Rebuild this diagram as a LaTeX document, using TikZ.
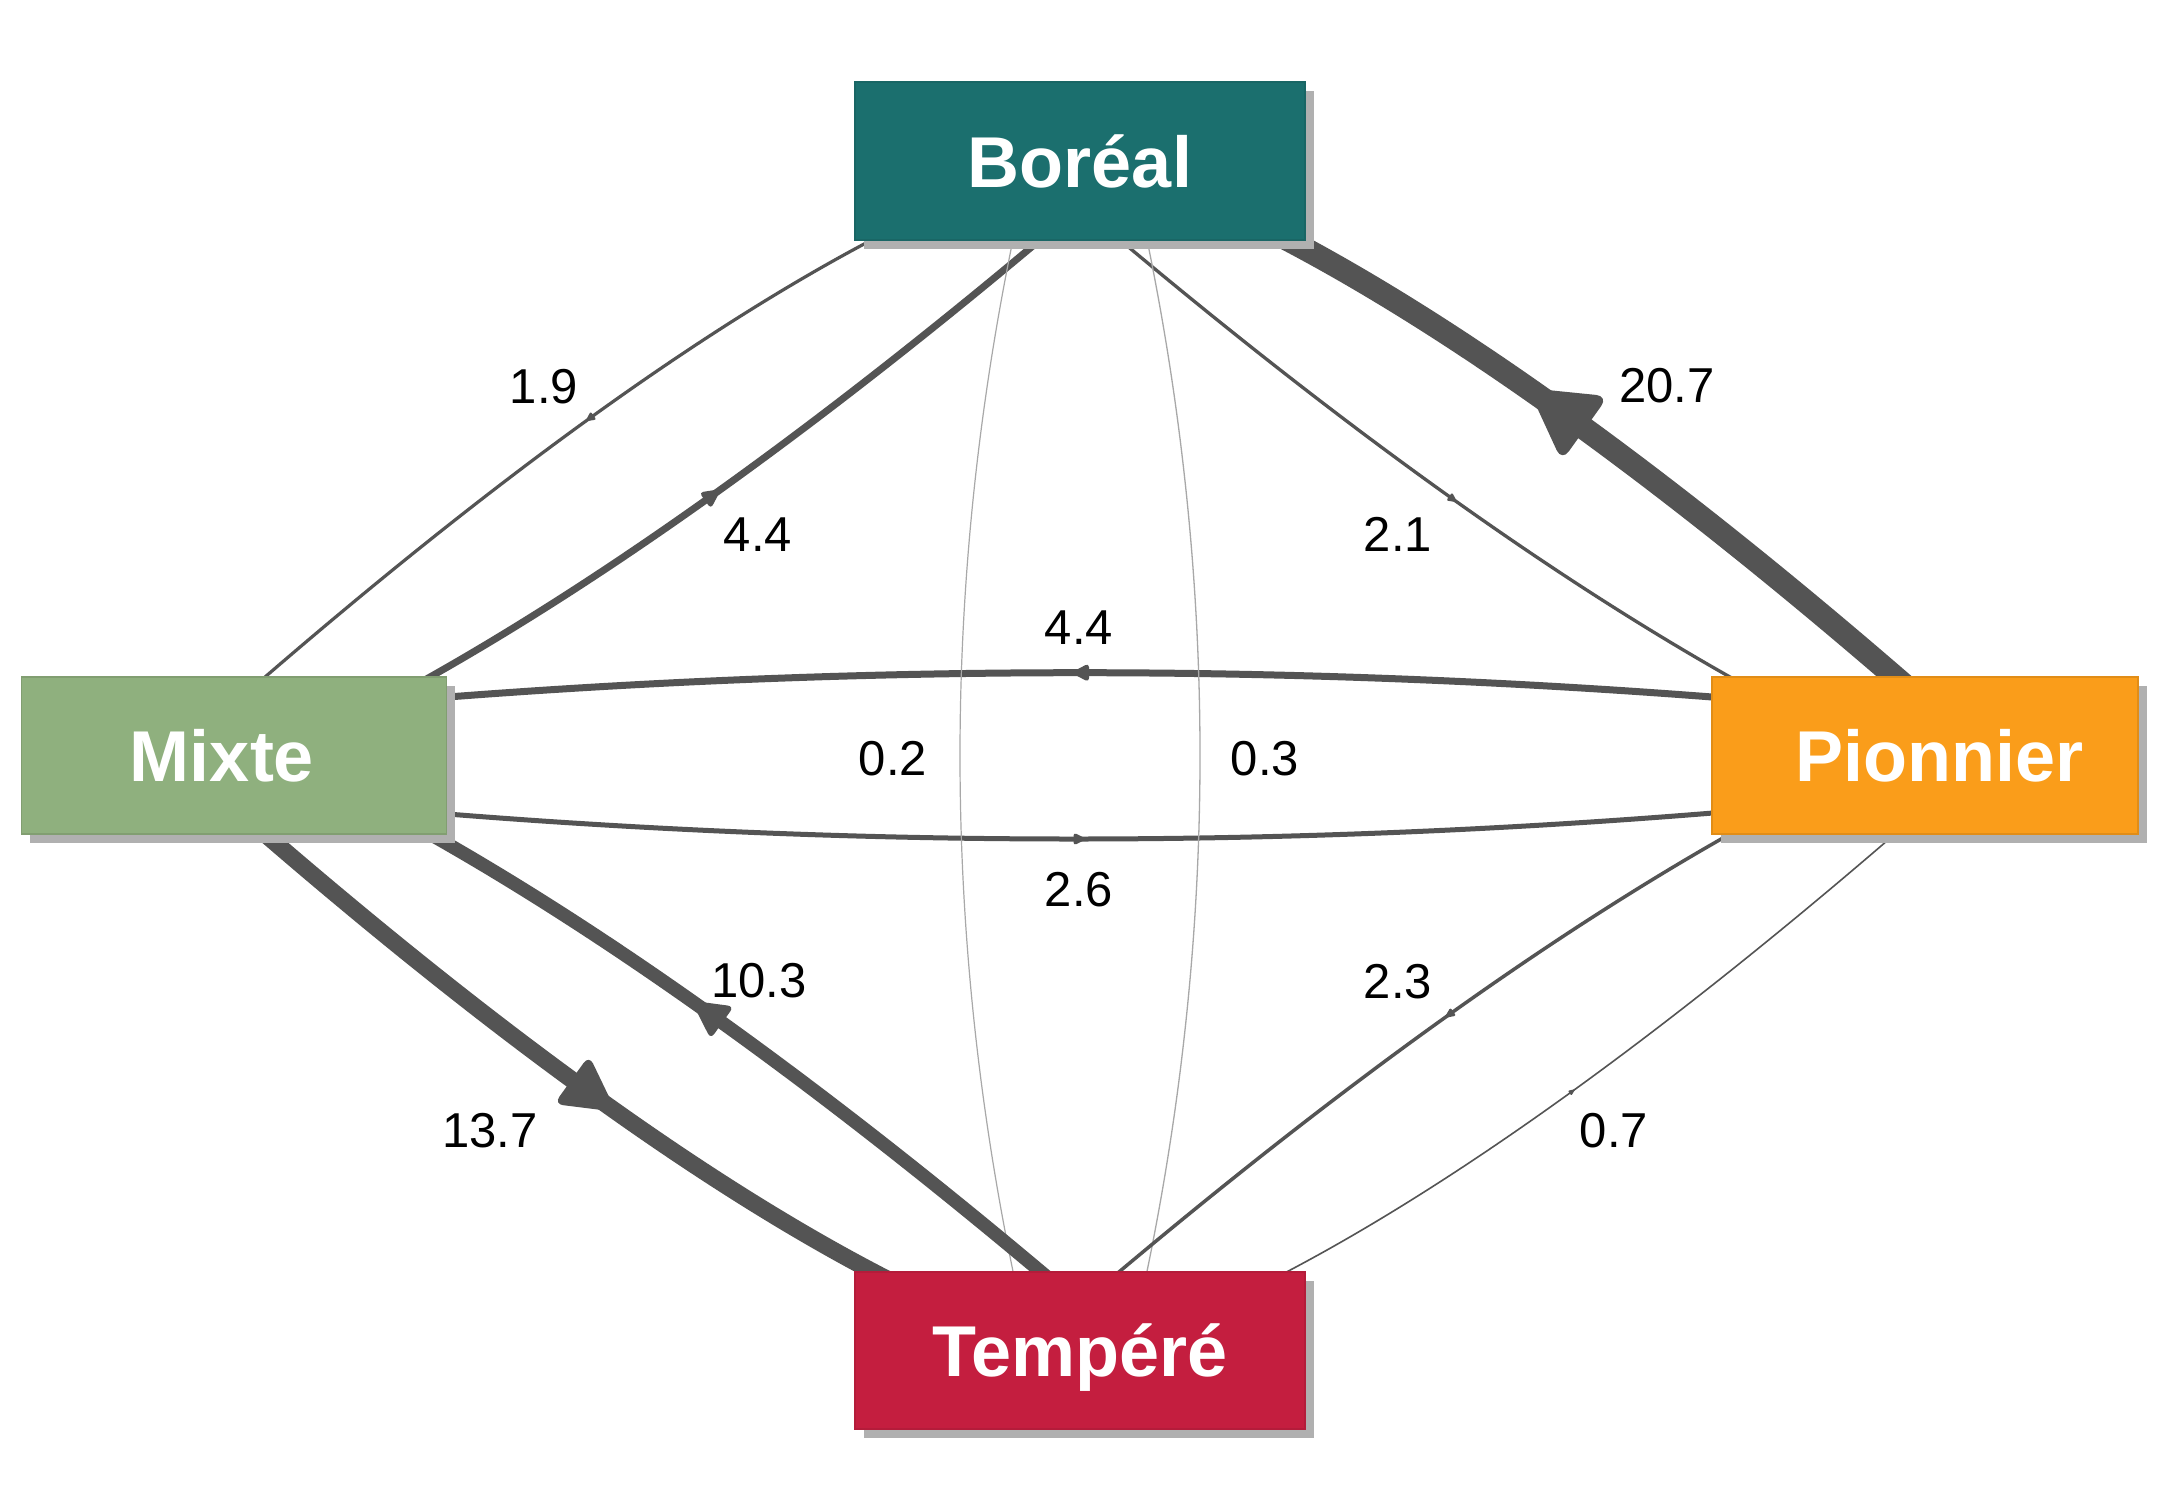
\documentclass[tikz,border=0pt]{standalone}
\usepackage{fontspec}
\setmainfont{Liberation Sans}
\usetikzlibrary{calc,decorations.markings,shadows}
\pgfdeclarelayer{bg}
\pgfsetlayers{bg,main}
\definecolor{boreal}{HTML}{1B6F6E}
\definecolor{mixte}{HTML}{8FB07E}
\definecolor{pionnier}{HTML}{FA9D1A}
\definecolor{tempere}{HTML}{C41E3F}
\definecolor{shadowc}{HTML}{B0B0B0}
\definecolor{edgec}{HTML}{545454}
\definecolor{faintc}{HTML}{A8A8A8}
\newcommand\flowedge[4]{\draw[#1] (#2) .. controls ($(#2)!0.6667!(#3)$) and ($(#4)!0.6667!(#3)$) .. (#4);}
\begin{document}
\begin{tikzpicture}[x=1pt,y=-1pt,
  box/.style={rectangle, minimum width=450pt, minimum height=158pt, inner sep=0pt,
    text=white, font=\fontsize{72}{80}\selectfont\bfseries, text height=52pt, text depth=0pt,
    line width=1.2pt,
    general shadow={fill=shadowc, draw=none, shadow xshift=8.5pt, shadow yshift=-8.5pt}},
  num/.style={font=\fontsize{49}{56}\selectfont, text height=35pt, text depth=0pt, inner sep=0pt},
  flowline/.style={draw=edgec, line width=#1},
  midarrow/.style n args={4}{postaction={decorate, decoration={markings,
    mark=at position #4 with {\fill[edgec, rounded corners=#3pt]
      ({0.5*#1*1pt},0pt) -- ({-0.5*#1*1pt},{0.5*#2*1pt}) -- ({-0.5*#1*1pt},{-0.5*#2*1pt}) -- cycle;}}}}
]
% nodes
\node[box, fill=boreal, draw=boreal!92!black] (b) at (1080,161) {Boréal};
\node[box, minimum width=425pt, minimum height=157pt, fill=mixte, draw=mixte!90!black] (m) at (234,755.5) {\hspace*{-24pt}Mixte};
\node[box, minimum width=426pt, minimum height=157pt, fill=pionnier, draw=pionnier!90!black] (p) at (1925,755.5) {Pionnier\hspace*{-28pt}};
\node[box, minimum height=157pt, fill=tempere, draw=tempere!92!black] (t) at (1080,1350.5) {Tempéré};

% edge end points and control points
\coordinate (e1a) at ([shift={(-193,71)}]b.center);
\coordinate (e1q) at (620,369);
\coordinate (e1z) at ([shift={(16,-65.5)}]m.center);
\coordinate (e2a) at ([shift={(172.7,-65.5)}]m.center);
\coordinate (e2q) at (691.8,533.2);
\coordinate (e2z) at ([shift={(-30.6,71)}]b.center);
\coordinate (e3a) at ([shift={(30.6,71)}]b.center);
\coordinate (e3q) at (1468.2,533.2);
\coordinate (e3z) at ([shift={(-171.7,-65.5)}]p.center);
\coordinate (e4a) at ([shift={(-15,-65.5)}]p.center);
\coordinate (e4q) at (1540,369);
\coordinate (e4z) at ([shift={(193,71)}]b.center);
\coordinate (e5a) at ([shift={(-200,-57.5)}]p.center);
\coordinate (e5q) at (1080,647.4);
\coordinate (e5z) at ([shift={(201,-57.5)}]m.center);
\coordinate (e6a) at ([shift={(201,57.5)}]m.center);
\coordinate (e6q) at (1080,865.5);
\coordinate (e6z) at ([shift={(-200,56.5)}]p.center);
\coordinate (e7a) at ([shift={(-65,69)}]b.center);
\coordinate (e7q) at (905,755.5);
\coordinate (e7z) at ([shift={(-65,-69.5)}]t.center);
\coordinate (e8a) at ([shift={(65,-69.5)}]t.center);
\coordinate (e8q) at (1255,755.5);
\coordinate (e8z) at ([shift={(65,69)}]b.center);
\coordinate (e9a) at ([shift={(16,65.5)}]m.center);
\coordinate (e9q) at (620,1142);
\coordinate (e9z) at ([shift={(-193,-71.5)}]t.center);
\coordinate (e10a) at ([shift={(-30.6,-71.5)}]t.center);
\coordinate (e10q) at (691.8,977.8);
\coordinate (e10z) at ([shift={(172.7,65.5)}]m.center);
\coordinate (e11a) at ([shift={(-171.7,65.5)}]p.center);
\coordinate (e11q) at (1468.2,977.8);
\coordinate (e11z) at ([shift={(30.6,-71.5)}]t.center);
\coordinate (e12a) at ([shift={(193,-71.5)}]t.center);
\coordinate (e12q) at (1540,1142);
\coordinate (e12z) at ([shift={(-15,65.5)}]p.center);

\begin{pgfonlayer}{bg}
\fill[white] (0,0) rectangle (2160,1512);
\flowedge{flowline=3.2pt, midarrow={10}{10}{2}{0.447}}{e1a}{e1q}{e1z}
\flowedge{flowline=7pt, midarrow={20}{20}{4}{0.46}}{e2a}{e2q}{e2z}
\flowedge{flowline=3.3pt, midarrow={10}{10}{2}{0.55}}{e3a}{e3q}{e3z}
\flowedge{flowline=23pt, midarrow={70}{80}{12}{0.575}}{e4a}{e4q}{e4z}
\flowedge{flowline=7pt, midarrow={18}{19}{4}{0.5}}{e5a}{e5q}{e5z}
\flowedge{flowline=5pt, midarrow={13}{13}{3}{0.5}}{e6a}{e6q}{e6z}
\flowedge{draw=faintc, line width=1.2pt}{e7a}{e7q}{e7z}
\flowedge{draw=faintc, line width=1.3pt}{e8a}{e8q}{e8z}
\flowedge{flowline=17pt, midarrow={55}{60}{9}{0.56}}{e9a}{e9q}{e9z}
\flowedge{flowline=13.5pt, midarrow={38}{40}{6}{0.55}}{e10a}{e10q}{e10z}
\flowedge{flowline=3.5pt, midarrow={11}{10}{2}{0.457}}{e11a}{e11q}{e11z}
\flowedge{flowline=1.6pt, midarrow={7}{6}{1}{0.45}}{e12a}{e12q}{e12z}
\end{pgfonlayer}

% labels
\node[num] (l1) at (544,386) {1.9};
\node[num] (l2) at (758,534) {4.4};
\node[num] (l3) at (1398,534) {2.1};
\node[num] (l4) at (1667,385) {20.7};
\node[num] (l5) at (1079,627) {4.4};
\node[num] (l6) at (1079,889) {2.6};
\node[num] (l7) at (893,758) {0.2};
\node[num] (l8) at (1265,758) {0.3};
\node[num] (l9) at (490,1130) {13.7};
\node[num] (l10) at (759,980) {10.3};
\node[num] (l11) at (1398,981) {2.3};
\node[num] (l12) at (1614,1130) {0.7};

\useasboundingbox (0,0) rectangle (2160,1512);
\end{tikzpicture}
\end{document}
